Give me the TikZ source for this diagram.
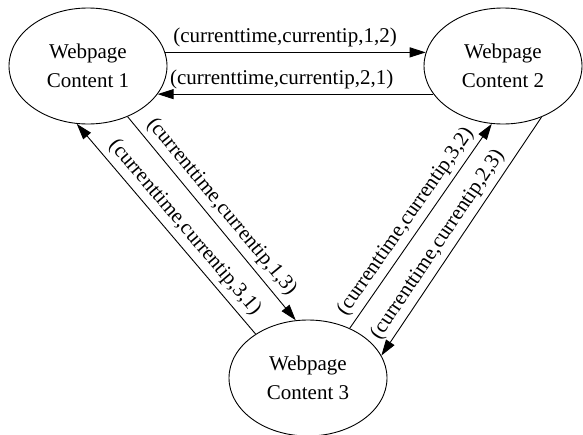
\documentclass[tikz,border=0pt]{standalone}
\usepackage{fontspec}
\setmainfont{Liberation Serif}
\usetikzlibrary{shapes.geometric,arrows.meta}
\begin{document}
\begin{tikzpicture}[x=1pt,y=-1pt,
  page/.style={draw,ellipse,line width=0.9pt,minimum width=158pt,minimum height=116pt,inner sep=0pt,align=center,font=\fontsize{21}{29}\selectfont},
  edge/.style={line width=0.9pt,-{Triangle[length=16pt,width=10pt]}},
  lbl/.style={font=\fontsize{21}{25}\selectfont,inner sep=1pt,above=4pt,sloped}]
\useasboundingbox (0,0) rectangle (583,434);
\node[page] (n1) at (88,66) {Webpage\\Content 1};
\node[page] (n2) at (503,66) {Webpage\\Content 2};
\node[page] (n3) at (308,378) {Webpage\\Content 3};
\draw[edge] (n1.10) -- node[lbl,pos=0.46] {(currenttime,currentip,1,2)} (n2.170);
\draw[edge] (n2.-158) -- node[lbl,pos=0.55] {(currenttime,currentip,2,1)} (n1.-22);
\draw[edge] (n1.-52.4) -- node[lbl,pos=0.49] {(currenttime,currentip,1,3)} (n3.102);
\draw[edge] (n3.140) -- node[lbl,pos=0.46] {(currenttime,currentip,3,1)} (n1.-101);
\draw[edge] (n3.50) -- node[lbl,pos=0.48] {(currenttime,currentip,3,2)} (n2.-101);
\draw[edge] (n2.-53) -- node[lbl,pos=0.57] {(currenttime,currentip,2,3)} (n3.17);
\end{tikzpicture}
\end{document}
